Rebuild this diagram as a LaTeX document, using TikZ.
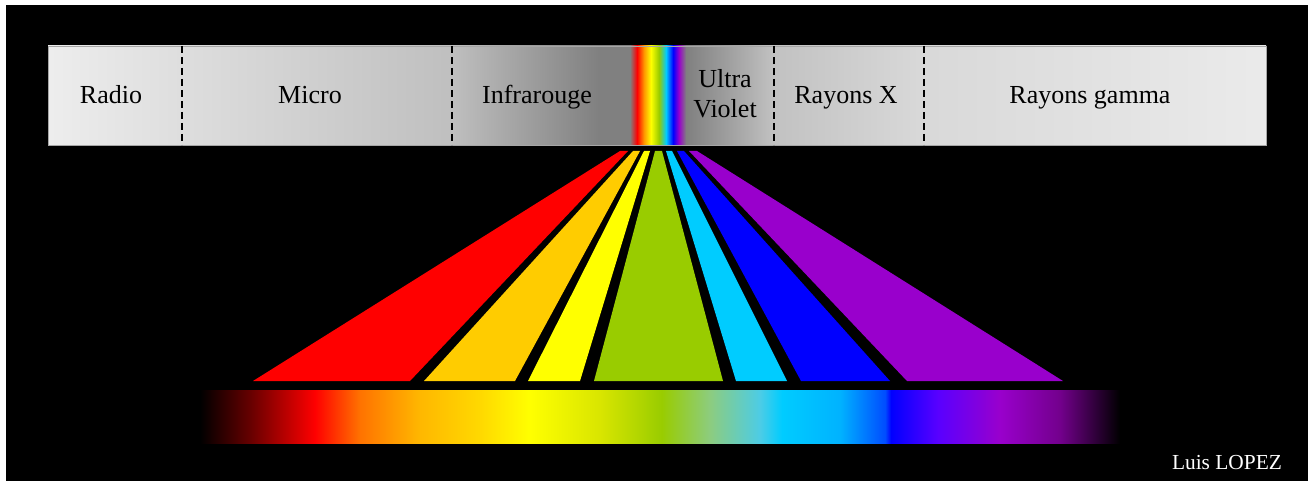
\documentclass[tikz,border=0pt]{standalone}
\usepackage{xcolor}
\usepackage{fontspec}
\setmainfont{Liberation Serif}
\usepackage{tikz}

\definecolor{rayred}{RGB}{255,0,0}
\definecolor{rayorange}{RGB}{255,204,0}
\definecolor{rayyellow}{RGB}{255,255,0}
\definecolor{raygreen}{RGB}{153,204,0}
\definecolor{raycyan}{RGB}{0,204,255}
\definecolor{rayblue}{RGB}{0,0,255}
\definecolor{rayviolet}{RGB}{153,0,204}

% bar from x=48 to x=1266 mapped on 25bp..75bp
\pgfdeclarehorizontalshading{barshade}{100bp}{%
  gray(0bp)=(0.93); gray(25bp)=(0.93); gray(30.5bp)=(0.87); gray(41.58bp)=(0.75);
  gray(47.66bp)=(0.5); gray(48.89bp)=(0.5);
  rgb(49.18bp)=(1,0,0); rgb(49.47bp)=(1,0.6,0); rgb(49.75bp)=(1,1,0);
  rgb(50.08bp)=(0.6,0.8,0); rgb(50.37bp)=(0,0.8,1); rgb(50.66bp)=(0,0,1);
  rgb(50.9bp)=(0.6,0,0.8);
  gray(51.19bp)=(0.5); gray(54.8bp)=(0.76); gray(60.96bp)=(0.85);
  gray(75bp)=(0.92); gray(100bp)=(0.92)}

% visible spectrum from x=200 to x=1120 mapped on 25bp..75bp
\pgfdeclarehorizontalshading{spectrumshade}{100bp}{%
  rgb(0bp)=(0,0,0); rgb(25bp)=(0,0,0); rgb(27.72bp)=(0.4,0,0);
  rgb(31.25bp)=(1,0,0); rgb(33.7bp)=(1,0.45,0); rgb(36.96bp)=(1,0.72,0);
  rgb(40.22bp)=(1,0.85,0); rgb(42.93bp)=(1,1,0); rgb(46.74bp)=(0.85,0.9,0);
  rgb(50.11bp)=(0.6,0.8,0); rgb(52.72bp)=(0.55,0.8,0.5); rgb(55.43bp)=(0.3,0.8,0.9);
  rgb(56.63bp)=(0,0.8,1); rgb(59.78bp)=(0,0.7,1); rgb(62.23bp)=(0,0.3,1);
  rgb(62.55bp)=(0,0,1); rgb(65.11bp)=(0.35,0,1); rgb(68.48bp)=(0.6,0,0.8);
  rgb(71.74bp)=(0.45,0,0.55); rgb(75bp)=(0,0,0); rgb(100bp)=(0,0,0)}

\begin{document}
\begin{tikzpicture}[
  x=0.5pt, y=-0.5pt,
  every node/.style={align=center, font=\fontsize{13}{15}\selectfont},
  bandlabel/.style={text=black, inner sep=0pt, anchor=base},
  sep/.style={draw=black, line width=0.8pt, dash pattern=on 3.5pt off 2pt}
]
\useasboundingbox (0,0) rectangle (1308,481);
\fill[white] (0,0) rectangle (1308,481);
\fill[black] (6,5) rectangle (1308,481);

% the spectrum bar
\path[shading=barshade, draw=gray!70, line width=0.4pt] (48,46) rectangle (1266,145);
\draw[sep] (182,46) -- (182,145);
\draw[sep] (452,46) -- (452,145);
\draw[sep] (774,46) -- (774,145);
\draw[sep] (924,46) -- (924,145);

\node[bandlabel] (radio) at (111,104) {Radio};
\node[bandlabel] (micro) at (310,104) {Micro};
\node[bandlabel] (infra) at (537,104) {Infrarouge};
\node[text=black, inner sep=0pt] (uv) at (725,94) {Ultra\\Violet};
\node[bandlabel] (xray) at (846,104) {Rayons X};
\node[bandlabel] (gamma) at (1090,104) {Rayons gamma};

% the fan of visible colours
\fill[rayred] (253,381) -- (410,381) -- (628,151) -- (620,151) -- cycle;
\fill[rayorange] (424,381) -- (515,381) -- (640,151) -- (633,151) -- cycle;
\fill[rayyellow] (528,381) -- (580,381) -- (650,151) -- (644,151) -- cycle;
\fill[raygreen] (594,381) -- (723,381) -- (662,151) -- (655,151) -- cycle;
\fill[raycyan] (736,381) -- (787,381) -- (672,151) -- (666,151) -- cycle;
\fill[rayblue] (801,381) -- (890,381) -- (684,151) -- (677,151) -- cycle;
\fill[rayviolet] (907,381) -- (1063,381) -- (697,151) -- (689,151) -- cycle;

% visible spectrum
\path[shading=spectrumshade] (200,390) rectangle (1120,443);

\node[text=white, anchor=base, font=\fontsize{10.7}{12}\selectfont] (author) at (1227,469) {Luis LOPEZ};
\end{tikzpicture}
\end{document}
